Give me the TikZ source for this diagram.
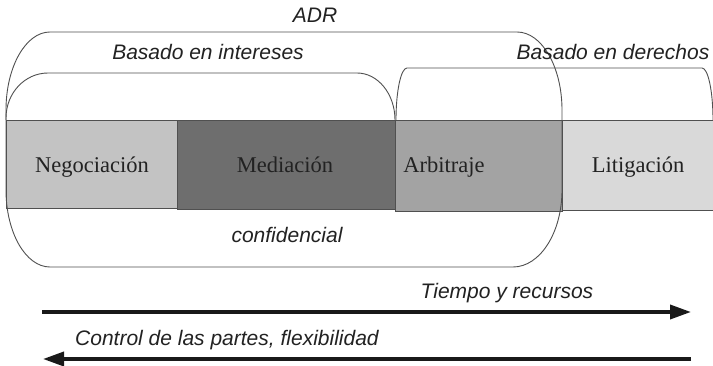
\documentclass[tikz,border=0pt]{standalone}
\usepackage{fontspec}
\setmainfont{Liberation Serif}
\setsansfont{Liberation Sans}
\usetikzlibrary{arrows.meta}
\definecolor{cNeg}{HTML}{C3C3C3}
\definecolor{cMed}{HTML}{6E6E6E}
\definecolor{cArb}{HTML}{A3A3A3}
\definecolor{cLit}{HTML}{D9D9D9}
\definecolor{cLine}{HTML}{505050}
\definecolor{cText}{HTML}{222222}
\tikzset{
  boxnode/.style={draw=cLine, line width=1pt, inner sep=0pt, anchor=north west},
  boxlabel/.style={font=\rmfamily\fontsize{22.5}{26}\selectfont, text=cText, inner sep=0pt, anchor=base},
  grouplabel/.style={font=\sffamily\itshape\fontsize{21}{25}\selectfont, text=cText, inner sep=0pt, anchor=base},
  groupline/.style={draw=cLine, line width=0.9pt},
  bigarrow/.style={draw=black!90, line width=3.6pt, -{Triangle[length=21pt,width=14pt]}}
}
\begin{document}
\begin{tikzpicture}[x=1pt,y=1pt]
\useasboundingbox[fill=white] (0,0) rectangle (713,-366);
% boxes
\node[boxnode, fill=cNeg, minimum width=171pt, minimum height=88pt] (neg) at (6,-120) {};
\node[boxnode, fill=cMed, minimum width=218pt, minimum height=89pt] (med) at (177,-120) {};
\node[boxnode, fill=cArb, minimum width=167pt, minimum height=91pt] (arb) at (395,-120) {};
\node[boxnode, fill=cLit, minimum width=156pt, minimum height=90pt] (lit) at (562,-120) {};
% box labels
\node[boxlabel] (tneg) at (92,-173) {Negociación};
\node[boxlabel] (tmed) at (285,-173) {Mediación};
\node[boxlabel] (tarb) at (444,-173) {Arbitraje};
\node[boxlabel] (tlit) at (638,-173) {Litigación};
% ADR group
\draw[groupline] (6,-190) -- (6,-110) arc[start angle=180, end angle=90, x radius=44, y radius=78]
  -- (517,-32) arc[start angle=90, end angle=0, x radius=45, y radius=78]
  -- (562,-190) arc[start angle=0, end angle=-90, x radius=49, y radius=77]
  -- (50,-267) arc[start angle=-90, end angle=-180, x radius=44, y radius=77];
% intereses group
\draw[groupline] (6,-120) -- (6,-118) arc[start angle=180, end angle=90, x radius=42, y radius=45]
  -- (357,-73) arc[start angle=90, end angle=0, x radius=38, y radius=47];
% derechos group
\draw[groupline] (396,-120) arc[start angle=180, end angle=90, x radius=11, y radius=52]
  -- (702,-68) arc[start angle=90, end angle=0, x radius=11, y radius=52];
% group labels
\node[grouplabel] (adr) at (315,-23) {ADR};
\node[grouplabel] (bint) at (208,-60) {Basado en intereses};
\node[grouplabel] (bder) at (613,-60) {Basado en derechos};
\node[grouplabel] (conf) at (287,-243) {confidencial};
% arrows
\coordinate (a1s) at (42,-312);
\coordinate (a1e) at (691,-312);
\coordinate (a2s) at (691,-359);
\coordinate (a2e) at (43,-359);
\draw[bigarrow] (a1s) -- (a1e);
\draw[bigarrow] (a2s) -- (a2e);
\node[grouplabel] (tiempo) at (507,-299) {Tiempo y recursos};
\node[grouplabel, anchor=base west] (control) at (75,-345) {Control de las partes, flexibilidad};
\end{tikzpicture}
\end{document}
